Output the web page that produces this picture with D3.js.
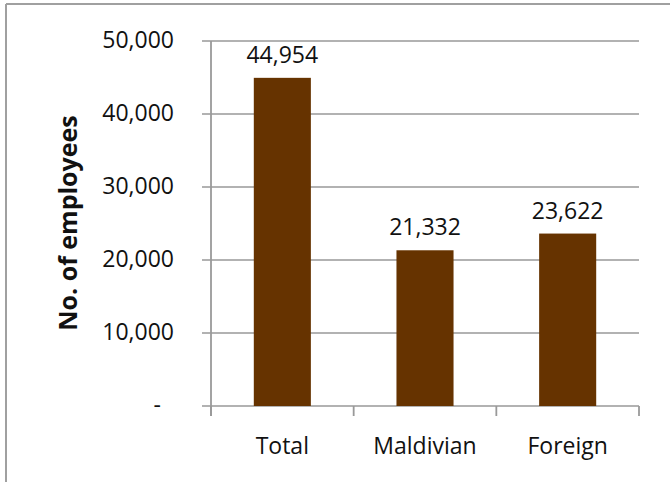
<!DOCTYPE html>
<html><head><meta charset="utf-8">
<script src="https://cdn.jsdelivr.net/npm/d3@7"></script>
<style>body{margin:0;background:#fff;}svg{display:block;}text{font-family:"Open Sans","Noto Sans",sans-serif;fill:#111;}</style>
</head><body>
<script>
const categories = ["Total", "Maldivian", "Foreign"];
const values = [44954, 21332, 23622];
const yTicks = [0, 10000, 20000, 30000, 40000, 50000];
const yTitle = "No. of employees";

const W = 670, H = 482;
const svg = d3.select("body").append("svg").attr("width", W).attr("height", H);

// frame (top and left visible)
svg.append("line").attr("x1", 6).attr("x2", W).attr("y1", 4).attr("y2", 4).attr("stroke", "#a0a0a0").attr("stroke-width", 2);
svg.append("line").attr("x1", 6).attr("x2", 6).attr("y1", 4).attr("y2", H).attr("stroke", "#a0a0a0").attr("stroke-width", 2);

const x0 = 211, x1 = 639, yTop = 41, yBot = 406;
const x = d3.scaleBand().domain(categories).range([x0, x1]).padding(0);
const y = d3.scaleLinear().domain([0, 50000]).range([yBot, yTop]);
const fmt = d3.format(",");
const fs = "23px";

// gridlines
svg.append("g").selectAll("line").data(yTicks).join("line")
  .attr("x1", x0 - 9).attr("x2", x1).attr("y1", d => y(d)).attr("y2", d => y(d))
  .attr("stroke", "#999").attr("stroke-width", 1.6);

// y tick labels
svg.append("g").selectAll("text").data(yTicks).join("text")
  .attr("x", d => d === 0 ? 161 : 174).attr("y", d => y(d)).attr("dy", "0.3em")
  .attr("text-anchor", "end").style("font-size", fs)
  .text(d => d === 0 ? "-" : fmt(d));

// bars
const bw = x.bandwidth() * 0.4;
svg.append("g").selectAll("rect").data(values).join("rect")
  .attr("x", (d, i) => x(categories[i]) + x.bandwidth() / 2 - bw / 2)
  .attr("width", bw)
  .attr("y", d => y(d)).attr("height", d => y(0) - y(d))
  .attr("fill", "#663300");

// axes
svg.append("line").attr("x1", x0).attr("x2", x0).attr("y1", yTop).attr("y2", yBot + 10).attr("stroke", "#999").attr("stroke-width", 1.8);
const bounds = categories.map(c => x(c) + x.bandwidth()).concat([x0]);
svg.append("g").selectAll("line").data(bounds).join("line")
  .attr("x1", d => d).attr("x2", d => d).attr("y1", yBot).attr("y2", yBot + 10)
  .attr("stroke", "#999").attr("stroke-width", 1.8);

// value labels
svg.append("g").selectAll("text").data(values).join("text")
  .attr("x", (d, i) => x(categories[i]) + x.bandwidth() / 2)
  .attr("y", d => y(d) - 15)
  .attr("text-anchor", "middle").style("font-size", fs)
  .text(d => fmt(d));

// category labels
svg.append("g").selectAll("text").data(categories).join("text")
  .attr("x", c => x(c) + x.bandwidth() / 2).attr("y", 454)
  .attr("text-anchor", "middle").style("font-size", fs)
  .text(c => c);

// y title
svg.append("text").attr("transform", "translate(77,223) rotate(-90)")
  .attr("text-anchor", "middle").style("font-size", "25px").style("font-weight", "bold")
  .text(yTitle);
</script>
</body></html>
